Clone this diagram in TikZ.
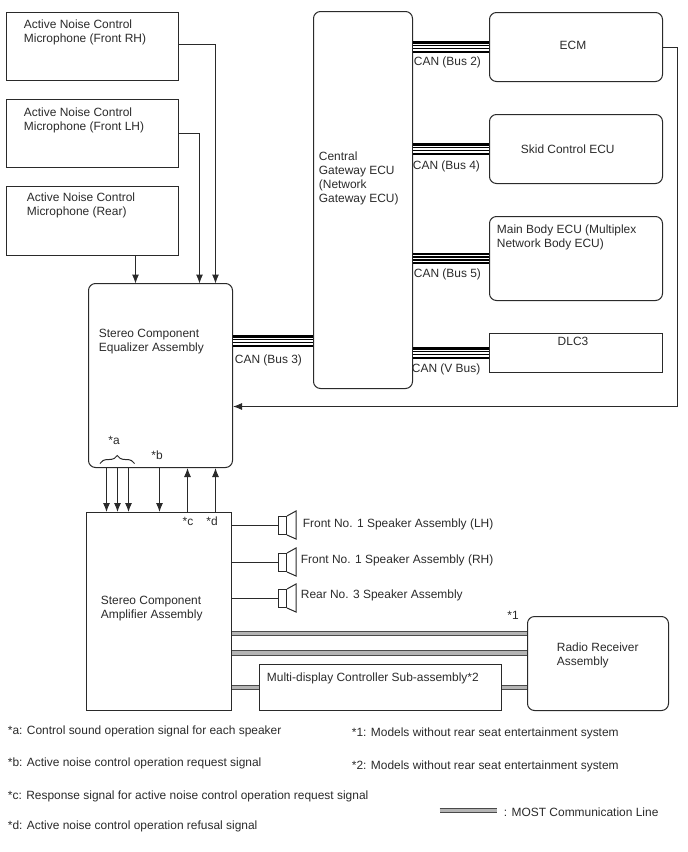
\documentclass[tikz,border=0pt]{standalone}
\usepackage{fontspec}
\setmainfont{Liberation Sans}
\usetikzlibrary{arrows.meta,positioning,calc,decorations.pathreplacing}
\definecolor{lineDark}{HTML}{2A2A2A}
\definecolor{mostGray}{HTML}{B4B4B4}
\newcommand{\hornshape}[1]{%
  \draw[line] (#1.north east) -- ++(9,-5) -- ++(0,28) -- (#1.south east);}

\begin{document}
\begin{tikzpicture}[
    x=1pt,y=-1pt,
    >={Latex[length=9pt,width=7pt]},
    every node/.style={font=\fontsize{11.95}{14}\selectfont,text=lineDark},
    line/.style={draw=lineDark,line width=1pt},
    sqbox/.style={rectangle,line,inner sep=0pt},
    rndbox/.style={sqbox,rounded corners=7pt},
    lab/.style={anchor=west,align=left,inner sep=0pt,xshift=-0.8pt,yshift=-0.5pt},
    arr/.style={line,->},
    wire/.style={line},
    canbus/.style={draw=white,line width=1.8pt,
      preaction={draw=black,line width=11.5pt},
      preaction={draw=white,line width=7pt},
      preaction={draw=black,line width=4.4pt}},
    most/.style={draw=mostGray,line width=3.8pt,
      preaction={draw=lineDark!85,line width=5.8pt}},
    spkbox/.style={sqbox,minimum width=8,minimum height=18}
  ]
  \useasboundingbox (-0.5,-0.5) rectangle (687.5,851.5);
  %% Left: microphones
  \node[sqbox,minimum width=172,minimum height=68] (micRH) at (92,46) {};
  \node[sqbox,minimum width=172,minimum height=68] (micLH) at (92,133) {};
  \node[sqbox,minimum width=172,minimum height=69] (micR) at (92,220.5) {};
  \node[lab] (micRHtxt) at (24,31.5) {Active Noise Control\\Microphone (Front RH)};
  \node[lab] (micLHtxt) at (24,119.5) {Active Noise Control\\Microphone (Front LH)};
  \node[lab] (micRtxt) at (27,204) {Active Noise Control\\Microphone (Rear)};
  %% Middle: equalizer and gateway
  \node[rndbox,minimum width=144,minimum height=184] (eq) at (160,375) {};
  \node[rndbox,minimum width=99,minimum height=377] (gw) at (362.5,199.5) {};
  \node[lab] (eqtxt) at (99,340.5) {Stereo Component\\Equalizer Assembly};
  \node[lab] (gwtxt) at (319,177) {Central\\Gateway ECU\\(Network\\Gateway ECU)};
  %% Right: units on the CAN
  \node[rndbox,minimum width=173,minimum height=69] (ecm) at (575.5,46.5) {};
  \node[rndbox,minimum width=173,minimum height=69] (skid) at (575.5,148.5) {};
  \node[rndbox,minimum width=173,minimum height=84] (body) at (575.5,258) {};
  \node[sqbox,minimum width=173,minimum height=39] (dlc) at (575.5,352.5) {};
  \node (ecmtxt) at (572.5,45) {ECM};
  \node[lab] (skidtxt) at (521,148) {Skid Control ECU};
  \node[lab] (bodytxt) at (497,236) {Main Body ECU (Multiplex\\Network Body ECU)};
  \node (dlctxt) at (572.5,341) {DLC3};
  \coordinate (can3) at (272,340.5);
  \draw[canbus] (eq.east |- can3) -- (gw.west |- can3);
  \draw[canbus] (gw.east |- ecm.west) -- (ecm.west);
  \draw[canbus] (gw.east |- skid.west) -- (skid.west);
  \draw[canbus] (gw.east |- body.west) -- (body.west);
  \draw[canbus] (gw.east |- dlc.west) -- (dlc.west);
  \node[lab] (bus3) at (235,359) {CAN (Bus 3)};
  \node[lab] (bus2) at (414,61) {CAN (Bus 2)};
  \node[lab] (bus4) at (413,165) {CAN (Bus 4)};
  \node[lab] (bus5) at (414,273) {CAN (Bus 5)};
  \node[lab] (busV) at (412,368) {CAN (V Bus)};
  %% Signal wires into the equalizer
  \draw[arr] (micRH.east |- 0,44) -| (215,283);
  \draw[arr] (micLH.east |- 0,133) -| (199,283);
  \draw[arr] (micR.south -| 135,0) -- (135,283);
  \draw[arr] (ecm.east |- 0,47) -- (677,47) -- (677,406) -- (eq.east |- 0,406);
  %% Bottom: amplifier and its outputs
  \node[sqbox,minimum width=145,minimum height=198] (amp) at (158.5,611) {};
  \node[rndbox,minimum width=141,minimum height=94] (radio) at (597.5,663) {};
  \node[sqbox,minimum width=242,minimum height=46] (multi) at (380,687) {};
  \node[lab] (amptxt) at (101,608) {Stereo Component\\Amplifier Assembly};
  \node[lab] (radiotxt) at (557,654) {Radio Receiver\\Assembly};
  \node[lab] (multitxt) at (267,677) {Multi-display Controller Sub-assembly*2};
  \draw[arr] (eq.south -| 106,0) -- (amp.north -| 106,0);
  \draw[arr] (eq.south -| 117,0) -- (amp.north -| 117,0);
  \draw[arr] (eq.south -| 128,0) -- (amp.north -| 128,0);
  \draw[arr] (eq.south -| 159,0) -- (amp.north -| 159,0);
  \draw[arr] (amp.north -| 187,0) -- (eq.south -| 187,0);
  \draw[arr] (amp.north -| 215,0) -- (eq.south -| 215,0);
  \draw[line,decorate,decoration={brace,amplitude=8pt}] (99.5,463) -- (134,463);
  \node (stara) at (113.5,440) {*a};
  \node (starb) at (156.5,455) {*b};
  \node (starc) at (187.5,521) {*c};
  \node (stard) at (211.5,521) {*d};
  %% Speakers
  \node[spkbox] (spkA) at (282,525) {};
  \node[spkbox] (spkB) at (282,562) {};
  \node[spkbox] (spkC) at (282,598) {};
  \hornshape{spkA}
  \hornshape{spkB}
  \hornshape{spkC}
  \draw[wire] (amp.east |- spkA) -- (spkA);
  \draw[wire] (amp.east |- spkB) -- (spkB);
  \draw[wire] (amp.east |- spkC) -- (spkC);
  \node[lab] (spkAtxt) at (303,523) {Front No. 1 Speaker Assembly (LH)};
  \node[lab] (spkBtxt) at (301,559) {Front No. 1 Speaker Assembly (RH)};
  \node[lab] (spkCtxt) at (301,594) {Rear No. 3 Speaker Assembly};
  %% MOST lines
  \draw[most] (amp.east |- 0,633) -- (radio.west |- 0,633);
  \draw[most] (amp.east |- 0,652.5) -- (radio.west |- 0,652.5);
  \draw[most] (amp.east |- multi.west) -- (multi.west);
  \draw[most] (multi.east) -- (radio.west |- multi.east);
  \node (star1) at (512.5,615) {*1};
  %% Notes
  \node[lab] (notea) at (8,730) {*a: Control sound operation signal for each speaker};
  \node[lab] (noteb) at (8,762) {*b: Active noise control operation request signal};
  \node[lab] (notec) at (8,795) {*c: Response signal for active noise control operation request signal};
  \node[lab] (noted) at (8,825) {*d: Active noise control operation refusal signal};
  \node[lab] (note1) at (352,732) {*1: Models without rear seat entertainment system};
  \node[lab] (note2) at (352,765) {*2: Models without rear seat entertainment system};
  \coordinate (keyA) at (439,810);
  \coordinate (keyB) at (496,810);
  \node[lab] (keytxt) at (504,811) {: MOST Communication Line};
  \draw[most] (keyA) -- (keyB);
\end{tikzpicture}
\end{document}
